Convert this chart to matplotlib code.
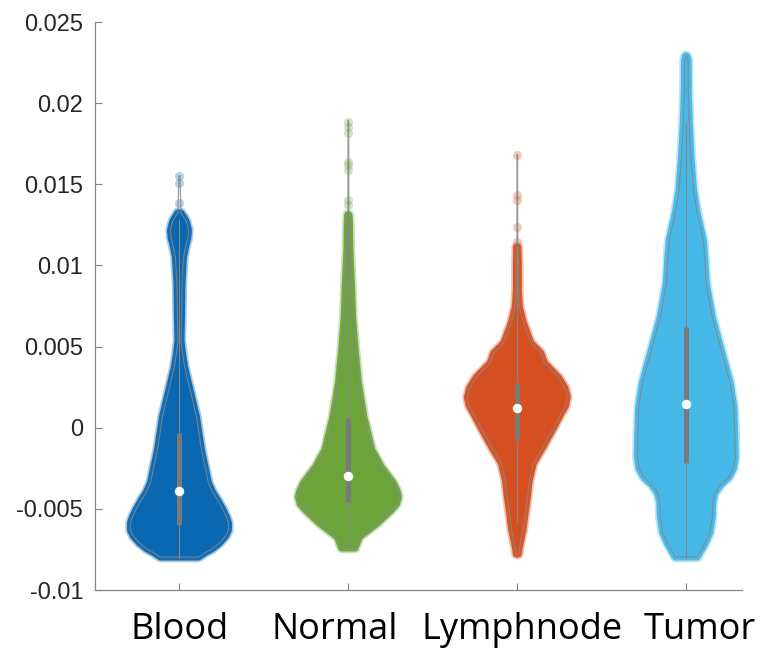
import matplotlib
matplotlib.use("Agg")
import matplotlib.pyplot as plt
from matplotlib.transforms import blended_transform_factory

# ---- data -------------------------------------------------------------
categories = ["Blood", "Normal", "Lymphnode", "Tumor"]
colors = ["#0A68B2", "#6BA53A", "#D64F20", "#46B8E8"]

# violin outlines: value levels and half-widths (x units)
blood_y = [0.01551, 0.01323, 0.01290, 0.01268, 0.01218, 0.01170, 0.01138, 0.01052,
           0.00891, 0.00682, 0.00540, 0.00479, 0.00375, 0.00275, 0.00066, -0.00137,
           -0.00341, -0.00395, -0.00445, -0.00500, -0.00550, -0.00586, -0.00630,
           -0.00665, -0.00710, -0.00745, -0.00772, -0.00797]
blood_w = [0.003, 0.009, 0.030, 0.041, 0.053, 0.050, 0.041, 0.024,
           0.015, 0.012, 0.009, 0.015, 0.030, 0.053, 0.101, 0.130,
           0.172, 0.195, 0.225, 0.255, 0.278, 0.290, 0.290,
           0.275, 0.237, 0.195, 0.148, 0.112]

normal_y = [0.01890, 0.01311, 0.01280, 0.01095, 0.00891, 0.00682, 0.00479, 0.00275,
            0.00066, -0.00137, -0.00242, -0.00341, -0.00390, -0.00427, -0.00470,
            -0.00507, -0.00587, -0.00673, -0.00741]
normal_w = [0.002, 0.003, 0.006, 0.009, 0.018, 0.025, 0.040, 0.059,
            0.092, 0.139, 0.195, 0.266, 0.288, 0.296, 0.285,
            0.254, 0.172, 0.065, 0.040]

lymph_y = [0.01680, 0.01112, 0.01013, 0.00848, 0.00743, 0.00645, 0.00522, 0.00460,
           0.00399, 0.00310, 0.00245, 0.00189, 0.00135, 0.00091, -0.00014, -0.00119,
           -0.00218, -0.00322, -0.00427, -0.00526, -0.00630, -0.00735, -0.00778]
lymph_w = [0.002, 0.003, 0.006, 0.006, 0.012, 0.036, 0.080, 0.139,
           0.160, 0.243, 0.282, 0.296, 0.285, 0.260, 0.207, 0.151,
           0.095, 0.071, 0.059, 0.046, 0.033, 0.012, 0.006]

tumor_y = [0.02290, 0.02265, 0.02080, 0.01877, 0.01668, 0.01465, 0.01323, 0.01157,
           0.01052, 0.00891, 0.00682, 0.00479, 0.00275, 0.00127, -0.00033,
           -0.00180, -0.00250, -0.00304, -0.00350, -0.00402, -0.00460, -0.00550,
           -0.00649, -0.00711, -0.00797]
tumor_w = [0.003, 0.011, 0.012, 0.018, 0.028, 0.043, 0.065, 0.101,
           0.109, 0.118, 0.154, 0.207, 0.260, 0.282, 0.287,
           0.290, 0.280, 0.253, 0.205, 0.169, 0.157, 0.154,
           0.139, 0.112, 0.065]

profiles_y = [blood_y, normal_y, lymph_y, tumor_y]
profiles_w = [blood_w, normal_w, lymph_w, tumor_w]

# top of the densely populated part of each violin
dense_top = [0.01323, 0.01311, 0.01112, 0.02290]

# isolated high points
blood_out = [0.01551, 0.01506, 0.01383]
normal_out = [0.01886, 0.01855, 0.01814, 0.01639, 0.01619, 0.01588, 0.01403, 0.01372]
lymph_out = [0.01680, 0.01433, 0.01402, 0.01239, 0.01146]
tumor_out = []
outliers = [blood_out, normal_out, lymph_out, tumor_out]

# summary statistics
q1 = [-0.0060, -0.00456, -0.00076, -0.00219]
q3 = [-0.00035, 0.00058, 0.00273, 0.00622]
medians = [-0.0039, -0.00296, 0.00119, 0.00144]
whisk_lo = [-0.0080, -0.0074, -0.0059, -0.0080]
whisk_hi = [0.0128, 0.0130, 0.0112, 0.0188]

yticks = [-0.01, -0.005, 0, 0.005, 0.01, 0.015, 0.02, 0.025]
ytick_labels = ["-0.01", "-0.005", "0", "0.005", "0.01", "0.015", "0.02", "0.025"]
label_x = [1.0, 1.92, 3.03, 4.08]

# ---- figure -----------------------------------------------------------
fig = plt.figure(figsize=(7.63, 6.55), dpi=100)
ax = fig.add_axes([0.1245, 0.0992, 0.848, 0.8672])

gray = "#858585"
for i, (ys, ws) in enumerate(zip(profiles_y, profiles_w)):
    pos = i + 1
    col = colors[i]
    # dense body with a soft, point-cloud-like rim
    body = [(y, w) for y, w in zip(ys, ws) if y <= dense_top[i] + 1e-9]
    by = [b[0] for b in body]
    bw = [b[1] for b in body]
    xs = [pos - w for w in bw] + [pos + w for w in bw[::-1]]
    yy = by + by[::-1]
    ax.fill(xs, yy, color=col, lw=0, zorder=2)
    ax.plot(xs + xs[:1], yy + yy[:1], color=col, alpha=0.35, lw=7.5,
            solid_joinstyle="round", solid_capstyle="round", zorder=2)
    ax.plot(xs + xs[:1], yy + yy[:1], color=col, alpha=0.95, lw=5.0,
            solid_joinstyle="round", solid_capstyle="round", zorder=2)
    # sparse points
    if outliers[i]:
        ax.plot([pos] * len(outliers[i]), outliers[i], "o", ms=6.5,
                color=col, alpha=0.3, mec="none", zorder=3)
    # outline
    ox = [pos - w for w in ws] + [pos + w for w in ws[::-1]]
    oy = list(ys) + list(ys[::-1])
    ax.plot(ox + ox[:1], oy + oy[:1], color=gray, lw=0.8, alpha=0.85,
            solid_joinstyle="round", zorder=4)
    # whisker, box, median
    ax.plot([pos, pos], [whisk_lo[i], whisk_hi[i]], color=gray, lw=0.8, zorder=5)
    ax.plot([pos, pos], [q1[i], q3[i]], color="#7a7a7a", lw=3.6,
            solid_capstyle="butt", zorder=6)
    ax.plot(pos, medians[i], "o", ms=6.8, color="white", mec="none", zorder=7)

ax.set_xlim(0.5, 4.33)
ax.set_ylim(-0.01, 0.025)
ax.set_yticks(yticks)
ax.set_yticklabels(ytick_labels, fontsize=17, color="#262626",
                   family=["Liberation Sans", "DejaVu Sans"])
ax.set_xticks([1, 2, 3, 4])
ax.set_xticklabels([])
ax.tick_params(axis="both", direction="in", length=5, width=0.8, color=gray)
ax.tick_params(axis="y", pad=8.5)
for side in ("top", "right"):
    ax.spines[side].set_visible(False)
for side in ("left", "bottom"):
    ax.spines[side].set_color(gray)
    ax.spines[side].set_linewidth(0.9)

trans = blended_transform_factory(ax.transData, ax.transAxes)
for x, name in zip(label_x, categories):
    ax.text(x, -0.0863, name, transform=trans, ha="center", va="baseline",
            fontsize=26, family=["Open Sans", "DejaVu Sans"], color="black")

fig.savefig("out.png", dpi=100)
